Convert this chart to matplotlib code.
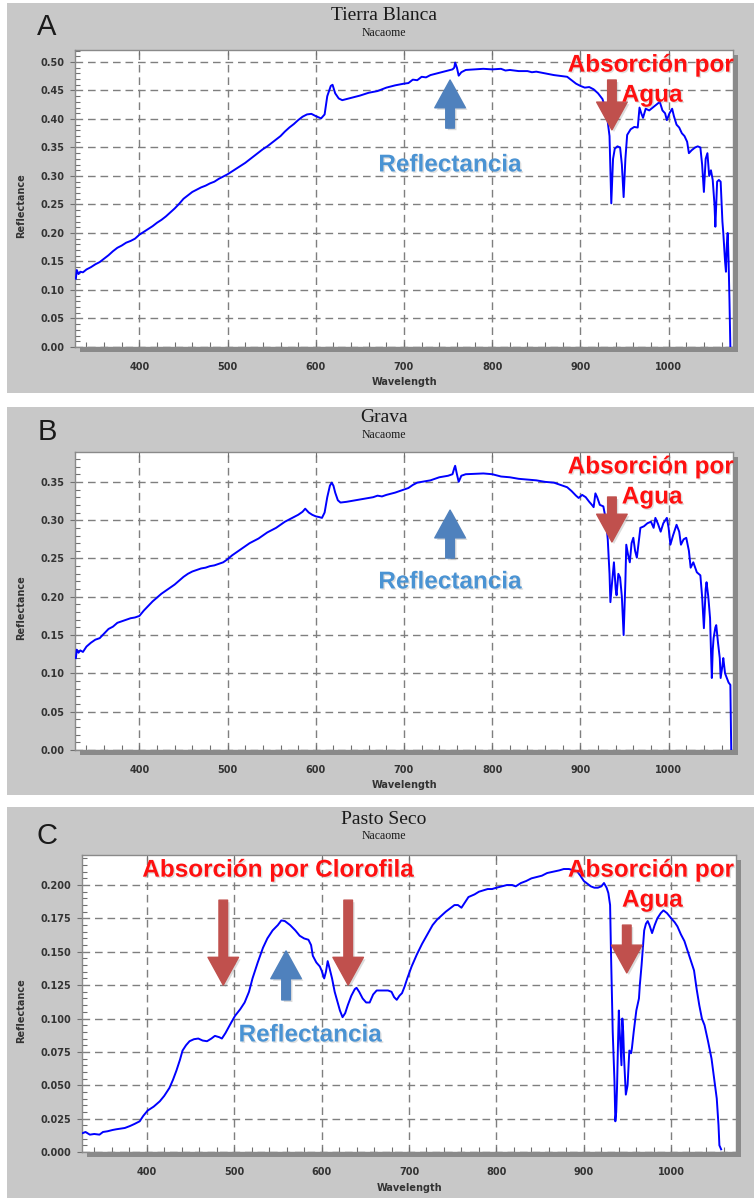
import matplotlib
matplotlib.use('Agg')
import matplotlib.pyplot as plt
from matplotlib.patches import Rectangle
from matplotlib.ticker import MultipleLocator, FormatStrFormatter
import matplotlib.patheffects as pe

# ---------------- data ----------------
wl_a = [328, 329, 331, 333, 336, 340, 345, 350, 355, 360, 365, 370, 375, 380, 385, 390, 395, 400,
        405, 410, 415, 420, 425, 430, 435, 440, 445, 450, 455, 460, 465, 470, 475, 480, 485, 490,
        495, 500, 505, 510, 515, 520, 525, 530, 535, 540, 545, 550, 555, 560, 565, 570, 575, 580,
        585, 590, 595, 600, 606, 610, 613, 617, 619, 622, 626, 630, 640, 650, 660, 670, 680, 690,
        700, 705, 710, 715, 720, 725, 730, 735, 740, 745, 750, 755, 757, 758, 760, 762, 765, 770,
        780, 790, 800, 810, 815, 820, 830, 840, 845, 850, 860, 870, 880, 885, 890, 895, 900, 905,
        910, 915, 920, 925, 928, 931, 933, 935, 937, 939, 942, 945, 947, 949, 951, 953, 957, 961,
        965, 967, 969, 971, 974, 978, 982, 986, 990, 993, 996, 998, 1001, 1004, 1006, 1009, 1012,
        1015, 1018, 1021, 1023, 1026, 1030, 1033, 1036, 1038, 1040, 1042, 1044, 1046, 1048, 1050,
        1052, 1053, 1055, 1057, 1059, 1061, 1062, 1064, 1065, 1066, 1067, 1068, 1069, 1070]
refl_a = [0.120, 0.135, 0.128, 0.132, 0.131, 0.136, 0.140, 0.145, 0.149, 0.155, 0.161, 0.168, 0.174,
          0.178, 0.183, 0.186, 0.190, 0.197, 0.202, 0.207, 0.212, 0.218, 0.223, 0.229, 0.236, 0.243,
          0.251, 0.260, 0.266, 0.272, 0.276, 0.280, 0.283, 0.287, 0.290, 0.295, 0.299, 0.303, 0.308,
          0.313, 0.318, 0.323, 0.329, 0.335, 0.341, 0.347, 0.352, 0.358, 0.364, 0.370, 0.378, 0.385,
          0.391, 0.398, 0.404, 0.408, 0.409, 0.405, 0.401, 0.408, 0.440, 0.458, 0.460, 0.445, 0.436,
          0.433, 0.437, 0.441, 0.446, 0.449, 0.455, 0.459, 0.462, 0.463, 0.469, 0.468, 0.474, 0.473,
          0.477, 0.479, 0.481, 0.483, 0.485, 0.487, 0.490, 0.499, 0.490, 0.476, 0.482, 0.486, 0.487,
          0.488, 0.487, 0.488, 0.485, 0.486, 0.484, 0.484, 0.482, 0.483, 0.480, 0.477, 0.475, 0.474,
          0.468, 0.462, 0.458, 0.455, 0.456, 0.452, 0.445, 0.435, 0.420, 0.395, 0.370, 0.252, 0.330,
          0.348, 0.352, 0.350, 0.320, 0.263, 0.330, 0.372, 0.382, 0.386, 0.385, 0.420, 0.410, 0.402,
          0.418, 0.415, 0.420, 0.425, 0.430, 0.415, 0.410, 0.398, 0.410, 0.418, 0.405, 0.390, 0.385,
          0.375, 0.370, 0.360, 0.340, 0.345, 0.350, 0.352, 0.350, 0.320, 0.272, 0.330, 0.340, 0.300,
          0.310, 0.293, 0.250, 0.211, 0.290, 0.293, 0.290, 0.220, 0.200, 0.150, 0.132, 0.180, 0.200,
          0.150, 0.082, 0.0]

wl_b = [328, 329, 331, 333, 336, 340, 345, 350, 355, 360, 365, 370, 375, 380, 385, 390, 395, 400,
        405, 410, 415, 420, 425, 430, 435, 440, 445, 450, 455, 460, 465, 470, 475, 480, 485, 490,
        495, 500, 505, 510, 515, 520, 525, 530, 535, 540, 545, 550, 555, 560, 565, 570, 575, 580,
        585, 588, 592, 596, 600, 604, 607, 610, 613, 616, 618, 620, 622, 625, 628, 635, 640, 650,
        660, 665, 670, 675, 680, 690, 700, 705, 710, 715, 720, 730, 740, 750, 755, 757, 758, 760,
        762, 765, 770, 790, 800, 810, 820, 830, 840, 850, 860, 870, 880, 885, 890, 895, 898, 902,
        906, 910, 913, 915, 917, 919, 922, 926, 929, 931, 933, 934, 936, 938, 940, 941, 943, 945,
        947, 949, 951, 952, 954, 956, 958, 960, 962, 964, 966, 968, 972, 976, 980, 983, 985, 988,
        991, 994, 998, 1000, 1002, 1005, 1009, 1012, 1014, 1017, 1020, 1023, 1025, 1028, 1032,
        1036, 1038, 1040, 1042, 1043, 1045, 1047, 1048, 1049, 1050, 1051, 1053, 1054, 1056, 1058,
        1059, 1061, 1062, 1064, 1066, 1068, 1070, 1071]
refl_b = [0.120, 0.131, 0.127, 0.130, 0.128, 0.135, 0.140, 0.144, 0.146, 0.152, 0.158, 0.161, 0.166,
          0.168, 0.170, 0.172, 0.173, 0.175, 0.182, 0.188, 0.194, 0.199, 0.204, 0.208, 0.212, 0.216,
          0.221, 0.226, 0.230, 0.233, 0.235, 0.237, 0.238, 0.240, 0.241, 0.243, 0.245, 0.249, 0.254,
          0.258, 0.262, 0.266, 0.270, 0.273, 0.276, 0.280, 0.284, 0.287, 0.290, 0.294, 0.298, 0.301,
          0.304, 0.307, 0.311, 0.315, 0.310, 0.307, 0.305, 0.304, 0.303, 0.310, 0.330, 0.345, 0.349,
          0.345, 0.336, 0.326, 0.323, 0.324, 0.325, 0.327, 0.329, 0.330, 0.332, 0.331, 0.333, 0.336,
          0.340, 0.342, 0.346, 0.349, 0.350, 0.352, 0.356, 0.358, 0.360, 0.368, 0.371, 0.360, 0.350,
          0.358, 0.360, 0.361, 0.360, 0.357, 0.356, 0.354, 0.353, 0.352, 0.350, 0.349, 0.345, 0.343,
          0.338, 0.332, 0.329, 0.333, 0.330, 0.324, 0.320, 0.317, 0.335, 0.330, 0.320, 0.318, 0.300,
          0.275, 0.230, 0.193, 0.220, 0.245, 0.210, 0.202, 0.230, 0.225, 0.200, 0.150, 0.220, 0.268,
          0.255, 0.245, 0.270, 0.277, 0.260, 0.251, 0.270, 0.290, 0.292, 0.296, 0.298, 0.290, 0.303,
          0.295, 0.285, 0.296, 0.303, 0.290, 0.268, 0.280, 0.294, 0.285, 0.268, 0.275, 0.277, 0.260,
          0.238, 0.245, 0.232, 0.228, 0.200, 0.159, 0.210, 0.219, 0.200, 0.172, 0.130, 0.094, 0.130,
          0.146, 0.160, 0.163, 0.140, 0.120, 0.094, 0.110, 0.120, 0.100, 0.094, 0.088, 0.085, 0.0]

wl_c = [327, 330, 335, 340, 346, 350, 355, 361, 365, 370, 375, 381, 386, 392, 396, 401, 408, 415,
        420, 426, 430, 434, 438, 441, 445, 449, 454, 459, 464, 469, 474, 478, 483, 486, 490, 495,
        501, 507, 512, 517, 521, 527, 533, 538, 544, 550, 554, 558, 564, 570, 575, 580, 585, 588,
        590, 594, 598, 600, 603, 605, 607, 609, 612, 615, 618, 621, 624, 627, 630, 634, 638, 640,
        643, 647, 651, 655, 659, 663, 670, 676, 680, 683, 686, 689, 692, 695, 698, 703, 709, 715,
        721, 727, 732, 737, 742, 748, 752, 756, 760, 763, 768, 775, 780, 785, 790, 795, 800, 806,
        812, 818, 822, 828, 834, 840, 846, 852, 858, 865, 872, 877, 883, 888, 892, 896, 900, 904,
        908, 912, 916, 920, 923, 926, 928, 930, 931, 932, 933, 935, 936, 937, 938, 939, 940, 941,
        943, 944, 945, 946, 948, 950, 952, 954, 955, 957, 960, 963, 964, 966, 968, 969, 971, 973,
        975, 978, 981, 984, 988, 991, 995, 1000, 1004, 1007, 1011, 1015, 1020, 1024, 1026, 1029,
        1032, 1035, 1038, 1042, 1046, 1049, 1052, 1054, 1055, 1057]
refl_c = [0.0142, 0.0150, 0.0130, 0.0135, 0.0130, 0.0150, 0.0155, 0.0165, 0.0170, 0.0175, 0.0180,
          0.0195, 0.0210, 0.0230, 0.0270, 0.0310, 0.0340, 0.0380, 0.0420, 0.0480, 0.0540, 0.0610,
          0.0690, 0.0760, 0.0800, 0.0830, 0.0845, 0.0850, 0.0835, 0.0830, 0.0850, 0.0870, 0.0860,
          0.0850, 0.0890, 0.0950, 0.1020, 0.1070, 0.1120, 0.1200, 0.1300, 0.1420, 0.1530, 0.1600,
          0.1660, 0.1700, 0.1735, 0.1730, 0.1700, 0.1660, 0.1620, 0.1600, 0.1590, 0.1550, 0.1470,
          0.1420, 0.1390, 0.1360, 0.1300, 0.1350, 0.1430, 0.1380, 0.1300, 0.1200, 0.1130, 0.1060,
          0.1010, 0.1040, 0.1100, 0.1170, 0.1220, 0.1230, 0.1200, 0.1150, 0.1120, 0.1120, 0.1180,
          0.1210, 0.1210, 0.1210, 0.1200, 0.1160, 0.1140, 0.1170, 0.1190, 0.1240, 0.1300, 0.1390,
          0.1480, 0.1560, 0.1630, 0.1700, 0.1740, 0.1770, 0.1800, 0.1830, 0.1850, 0.1850, 0.1830,
          0.1860, 0.1910, 0.1930, 0.1950, 0.1960, 0.1970, 0.1970, 0.1980, 0.1990, 0.2000, 0.2000,
          0.1990, 0.2015, 0.2030, 0.2050, 0.2060, 0.2070, 0.2090, 0.2100, 0.2110, 0.2120, 0.2120,
          0.2110, 0.2105, 0.2070, 0.2030, 0.2010, 0.1990, 0.1980, 0.1980, 0.1990, 0.2015, 0.1980,
          0.1940, 0.1850, 0.1500, 0.1200, 0.0900, 0.0530, 0.0230, 0.0300, 0.0500, 0.0800, 0.1060,
          0.0900, 0.0650, 0.1000, 0.0900, 0.0700, 0.0430, 0.0500, 0.0760, 0.0740, 0.0780, 0.0900,
          0.1060, 0.1150, 0.1250, 0.1400, 0.1580, 0.1660, 0.1710, 0.1730, 0.1700, 0.1640, 0.1700,
          0.1750, 0.1790, 0.1810, 0.1790, 0.1750, 0.1720, 0.1690, 0.1630, 0.1580, 0.1480, 0.1400,
          0.1360, 0.1220, 0.1100, 0.1000, 0.0950, 0.0830, 0.0700, 0.0550, 0.0400, 0.0200, 0.0050,
          0.0020]

x_ticks = [400, 500, 600, 700, 800, 900, 1000]
titles = ["Tierra Blanca", "Grava", "Pasto Seco"]
subtitle = "Nacaome"
letters = ["A", "B", "C"]

# ---------------- layout ----------------
W, H = 754, 1198
fig = plt.figure(figsize=(W / 100, H / 100), dpi=100)
fig.patch.set_facecolor('white')

def fx(px):
    return px / W

def fy(py):
    return 1 - py / H

RED_TXT = '#ff1010'
RED_ARW = '#c0504d'
BLUE_ARW = '#4f81bd'
BLUE_TXT = '#4a93d3'
txt_fx = [pe.SimplePatchShadow(offset=(1.0, -1.0), shadow_rgbFace='#999999', alpha=0.3), pe.Normal()]
arw_fx = [pe.SimplePatchShadow(offset=(1.5, -1.5), shadow_rgbFace='#888888', alpha=0.3), pe.Normal()]

panels = [
    dict(wl=wl_a, r=refl_a, bg=(3, 393), ax=(75, 50, 733, 347), xlim=(327, 1073), ylim=(0, 0.521),
         ymaj=0.05, ymin=0.01, fmt='%.2f', title_y=15, sub_y=33, let_y=27, xl_y=382, yl_y=206),
    dict(wl=wl_b, r=refl_b, bg=(407, 795), ax=(75, 452, 733, 750), xlim=(327, 1073), ylim=(0, 0.389),
         ymaj=0.05, ymin=0.01, fmt='%.2f', title_y=418, sub_y=435, let_y=432, xl_y=785, yl_y=608),
    dict(wl=wl_c, r=refl_c, bg=(807, 1198), ax=(82, 855, 736, 1152), xlim=(326, 1074), ylim=(0, 0.2225),
         ymaj=0.025, ymin=0.005, fmt='%.3f', title_y=820, sub_y=836, let_y=836, xl_y=1188, yl_y=1011),
]

axes = []
for i, p in enumerate(panels):
    b0, b1 = p['bg']
    fig.add_artist(Rectangle((fx(7), fy(b1)), (W - 7) / W, (b1 - b0) / H, transform=fig.transFigure,
                             facecolor='#c8c8c8', edgecolor='none', zorder=-3))
    l, t, r, bt = p['ax']
    # shadow
    fig.add_artist(Rectangle((fx(l + 5), fy(bt + 5)), (r - l) / W, (bt - t) / H, transform=fig.transFigure,
                             facecolor='#8a8a8a', edgecolor='none', zorder=-2))
    ax = fig.add_axes([fx(l), fy(bt), (r - l) / W, (bt - t) / H])
    ax.set_facecolor('white')
    ax.plot(p['wl'], p['r'], color='#0000ff', lw=1.4, zorder=3)
    ax.set_xlim(*p['xlim'])
    ax.set_ylim(*p['ylim'])
    ax.set_xticks(x_ticks)
    ax.xaxis.set_minor_locator(MultipleLocator(20))
    ax.yaxis.set_major_locator(MultipleLocator(p['ymaj']))
    ax.yaxis.set_minor_locator(MultipleLocator(p['ymin']))
    ax.yaxis.set_major_formatter(FormatStrFormatter(p['fmt']))
    ax.grid(True, which='major', color='#7f7f7f', lw=1.0, linestyle=(0, (5.5, 3.5)), zorder=1)
    for s in ax.spines.values():
        s.set_color('#8a8a8a')
        s.set_linewidth(1.0)
    ax.tick_params(axis='x', which='major', direction='in', length=3.5, width=0.8, color='#707070',
                   top=True, bottom=True, pad=11, labelsize=7)
    ax.tick_params(axis='x', which='minor', direction='in', length=3.5, width=0.8, color='#707070',
                   top=False, bottom=True)
    ax.tick_params(axis='y', which='major', direction='out', length=3.5, width=0.8, color='#707070',
                   pad=4, labelsize=7)
    ax.tick_params(axis='y', which='minor', direction='in', length=3.5, width=0.8, color='#707070')
    for lab in ax.get_xticklabels() + ax.get_yticklabels():
        lab.set_fontweight('bold')
        lab.set_color('#333333')
    fig.text(fx(47), fy(p['let_y']), letters[i], fontsize=21, family='Liberation Sans', color='#1a1a1a',
             ha='center', va='center')
    fig.text(fx(384), fy(p['title_y']), titles[i], fontsize=14, family='Liberation Serif', color='#1a1a1a',
             ha='center', va='center')
    fig.text(fx(384), fy(p['sub_y']), subtitle, fontsize=8.5, family='Liberation Serif', color='#1a1a1a',
             ha='center', va='center')
    fig.text(fx((l + r) / 2 + 1), fy(p['xl_y']), 'Wavelength', fontsize=7, fontweight='bold',
             color='#333333', ha='center', va='center')
    fig.text(fx(21), fy(p['yl_y']), 'Reflectance', fontsize=7, fontweight='bold', color='#333333',
             rotation=90, ha='center', va='center')
    axes.append(ax)


def arrow(ax, x, y_from, y_to, color):
    ax.annotate('', xy=(x, y_to), xytext=(x, y_from), xycoords='axes fraction',
                textcoords='axes fraction', annotation_clip=False,
                arrowprops=dict(arrowstyle='simple,head_length=2.0,head_width=2.2,tail_width=0.62',
                                mutation_scale=10, color=color, shrinkA=0, shrinkB=0,
                                path_effects=arw_fx), zorder=5)


def label(ax, x, y, s, color):
    ax.text(x, y, s, transform=ax.transAxes, fontsize=17.5, fontweight='bold', family='Liberation Sans',
            color=color, ha='center', va='center', path_effects=txt_fx, zorder=6)


# Panel A
ax = axes[0]
label(ax, 0.875, 0.949, 'Absorción por', RED_TXT)
label(ax, 0.877, 0.848, 'Agua', RED_TXT)
arrow(ax, 0.816, 0.899, 0.731, RED_ARW)
arrow(ax, 0.570, 0.737, 0.899, BLUE_ARW)
label(ax, 0.570, 0.613, 'Reflectancia', BLUE_TXT)

# Panel B
ax = axes[1]
label(ax, 0.875, 0.950, 'Absorción por', RED_TXT)
label(ax, 0.877, 0.849, 'Agua', RED_TXT)
arrow(ax, 0.816, 0.849, 0.698, RED_ARW)
arrow(ax, 0.570, 0.644, 0.805, BLUE_ARW)
label(ax, 0.570, 0.564, 'Reflectancia', BLUE_TXT)

# Panel C
ax = axes[2]
label(ax, 0.300, 0.949, 'Absorción por Clorofila', RED_TXT)
arrow(ax, 0.216, 0.848, 0.562, RED_ARW)
arrow(ax, 0.407, 0.848, 0.562, RED_ARW)
arrow(ax, 0.312, 0.512, 0.677, BLUE_ARW)
label(ax, 0.349, 0.394, 'Reflectancia', BLUE_TXT)
label(ax, 0.870, 0.949, 'Absorción por', RED_TXT)
label(ax, 0.872, 0.848, 'Agua', RED_TXT)
arrow(ax, 0.833, 0.764, 0.603, RED_ARW)

fig.savefig('out.png', dpi=100)
